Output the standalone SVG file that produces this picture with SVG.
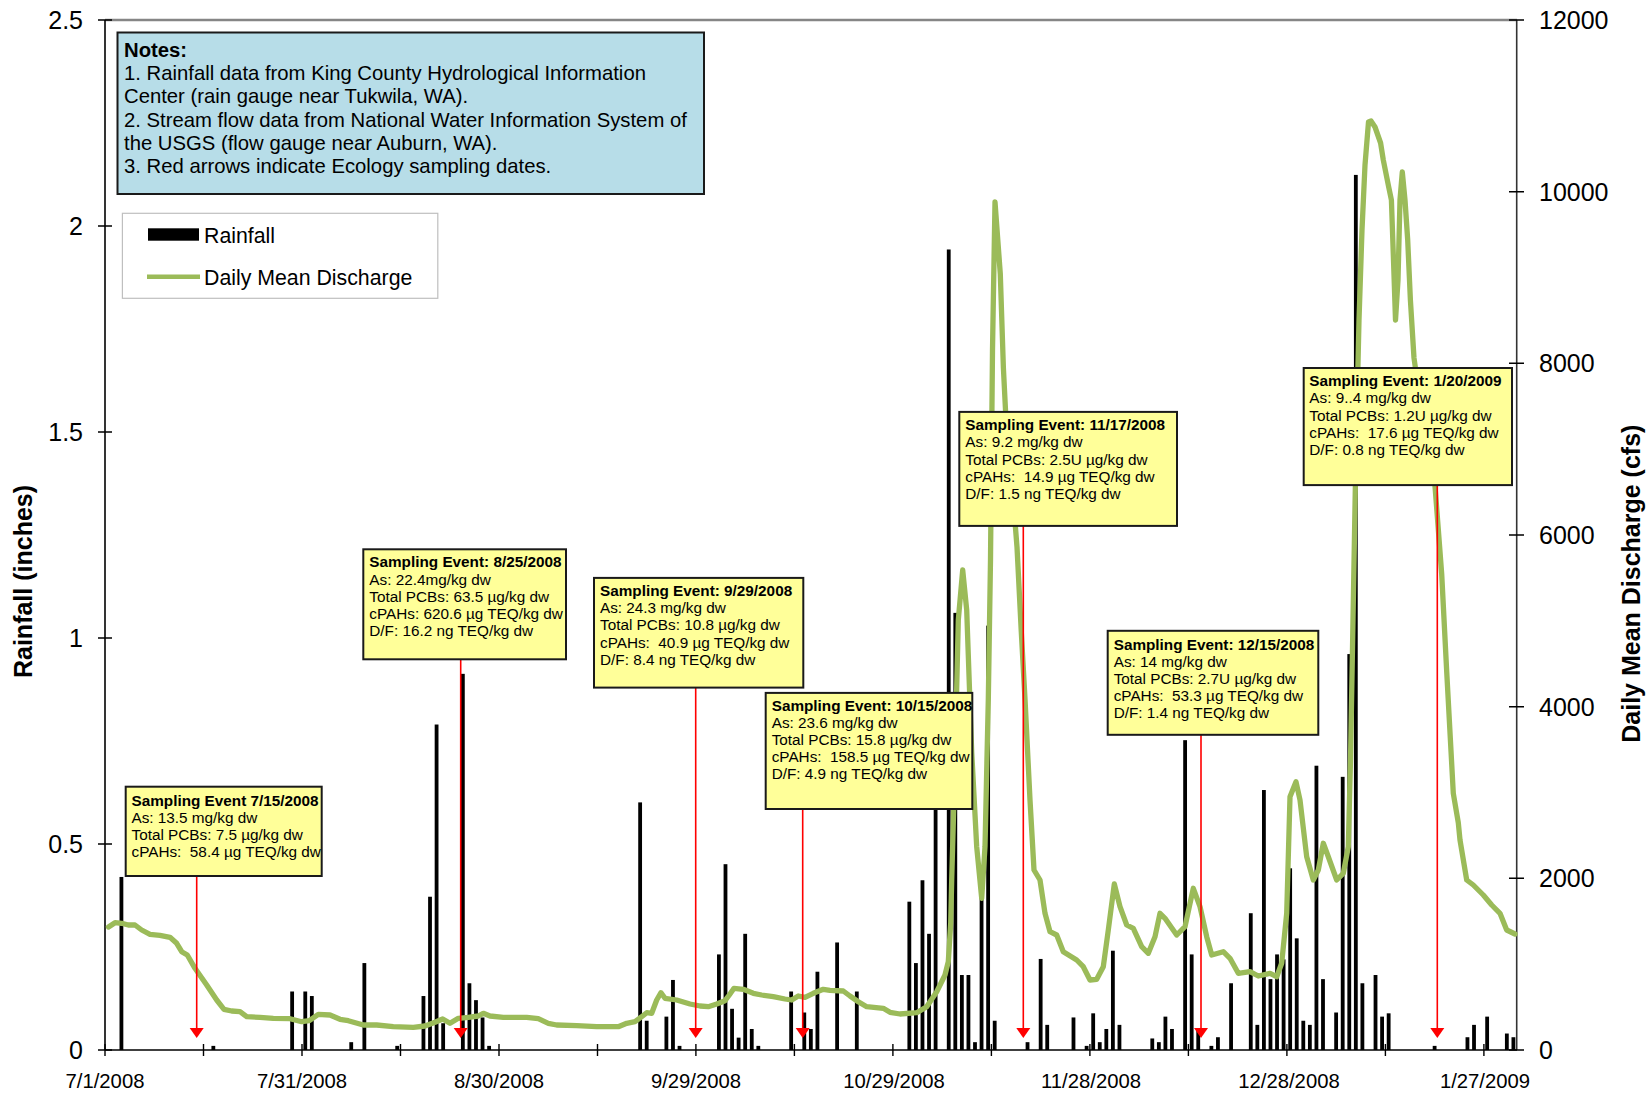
<svg xmlns="http://www.w3.org/2000/svg" width="1651" height="1095" viewBox="0 0 1651 1095">
<style>
text{font-family:"Liberation Sans",Arial,sans-serif;fill:#000}
.tick{font-size:25px}
.xl{font-size:20.3px;text-anchor:middle}
.ttl{font-size:25px;font-weight:bold;text-anchor:middle}
.box{fill:#FFFF99;stroke:#1a1a1a;stroke-width:2}
.bt{font-size:15.3px}
.bt text{white-space:pre}
.bt .h{font-weight:bold}
.arrow{stroke:#FF0000;stroke-width:1.6;fill:none}
.head{fill:#FF0000}
.notes text{font-size:20.3px}
.leg text{font-size:21.3px}
</style>
<rect width="1651" height="1095" fill="#ffffff"/>

<g id="axes">
<line x1="105" y1="20" x2="1517" y2="20" stroke="#868686" stroke-width="2.5"/>
<line x1="105" y1="20" x2="105" y2="1050" stroke="#000" stroke-width="1.6"/>
<line x1="1516.7" y1="20" x2="1516.7" y2="1050" stroke="#333" stroke-width="1.6"/>
<line x1="105" y1="1050" x2="1517" y2="1050" stroke="#000" stroke-width="1.6"/>
<path d="M98 20h14M98 226h14M98 432h14M98 638h14M98 844h14M98 1050h14M1509 20h15M1509 191.7h15M1509 363.3h15M1509 535h15M1509 706.7h15M1509 878.3h15M1509 1050h15" stroke="#000" stroke-width="1.4"/>
<path d="M105 1044v12M203.5 1044v12M302 1044v12M400.5 1044v12M499 1044v12M597.5 1044v12M695.9 1044v12M794.4 1044v12M892.9 1044v12M991.4 1044v12M1089.9 1044v12M1188.4 1044v12M1286.9 1044v12M1385.4 1044v12M1483.9 1044v12" stroke="#000" stroke-width="1.4"/>
<g class="tick" text-anchor="end">
<text x="83" y="29">2.5</text><text x="83" y="235">2</text><text x="83" y="441">1.5</text><text x="83" y="647">1</text><text x="83" y="853">0.5</text><text x="83" y="1059">0</text>
</g>
<g class="tick">
<text x="1539" y="29">12000</text><text x="1539" y="200.7">10000</text><text x="1539" y="372.3">8000</text><text x="1539" y="544">6000</text><text x="1539" y="715.7">4000</text><text x="1539" y="887.3">2000</text><text x="1539" y="1059">0</text>
</g>
<g class="xl">
<text x="105" y="1088">7/1/2008</text><text x="302" y="1088">7/31/2008</text><text x="499" y="1088">8/30/2008</text><text x="696" y="1088">9/29/2008</text><text x="894" y="1088">10/29/2008</text><text x="1091" y="1088">11/28/2008</text><text x="1289" y="1088">12/28/2008</text><text x="1485" y="1088">1/27/2009</text>
</g>
<text class="ttl" transform="translate(31.5,581.5) rotate(-90)">Rainfall (inches)</text>
<text class="ttl" transform="translate(1639.5,583.7) rotate(-90)">Daily Mean Discharge (cfs)</text>
</g>

<g id="rainfall-bars" fill="#000" transform="matrix(6.566 0 0 -412 106.38 1050)">
<rect x="2" y="0" width="0.58" height="0.42"/>
<rect x="16" y="0" width="0.58" height="0.01"/>
<rect x="28" y="0" width="0.58" height="0.142"/>
<rect x="30" y="0" width="0.58" height="0.142"/>
<rect x="31" y="0" width="0.58" height="0.131"/>
<rect x="37" y="0" width="0.58" height="0.019"/>
<rect x="39" y="0" width="0.58" height="0.211"/>
<rect x="44" y="0" width="0.58" height="0.01"/>
<rect x="48" y="0" width="0.58" height="0.131"/>
<rect x="49" y="0" width="0.58" height="0.372"/>
<rect x="50" y="0" width="0.58" height="0.79"/>
<rect x="51" y="0" width="0.58" height="0.065"/>
<rect x="54" y="0" width="0.58" height="0.913"/>
<rect x="55" y="0" width="0.58" height="0.162"/>
<rect x="56" y="0" width="0.58" height="0.121"/>
<rect x="57" y="0" width="0.58" height="0.079"/>
<rect x="58" y="0" width="0.58" height="0.01"/>
<rect x="81" y="0" width="0.58" height="0.601"/>
<rect x="82" y="0" width="0.58" height="0.071"/>
<rect x="85" y="0" width="0.58" height="0.081"/>
<rect x="86" y="0" width="0.58" height="0.17"/>
<rect x="87" y="0" width="0.58" height="0.01"/>
<rect x="93" y="0" width="0.58" height="0.232"/>
<rect x="94" y="0" width="0.58" height="0.451"/>
<rect x="95" y="0" width="0.58" height="0.1"/>
<rect x="96" y="0" width="0.58" height="0.03"/>
<rect x="97" y="0" width="0.58" height="0.282"/>
<rect x="98" y="0" width="0.58" height="0.051"/>
<rect x="99" y="0" width="0.58" height="0.01"/>
<rect x="104" y="0" width="0.58" height="0.142"/>
<rect x="106" y="0" width="0.58" height="0.091"/>
<rect x="107" y="0" width="0.58" height="0.051"/>
<rect x="108" y="0" width="0.58" height="0.19"/>
<rect x="111" y="0" width="0.58" height="0.261"/>
<rect x="114" y="0" width="0.58" height="0.142"/>
<rect x="122" y="0" width="0.58" height="0.36"/>
<rect x="123" y="0" width="0.58" height="0.211"/>
<rect x="124" y="0" width="0.58" height="0.412"/>
<rect x="125" y="0" width="0.58" height="0.282"/>
<rect x="126" y="0" width="0.58" height="0.66"/>
<rect x="128" y="0" width="0.58" height="1.943"/>
<rect x="129" y="0" width="0.58" height="1.061"/>
<rect x="130" y="0" width="0.58" height="0.182"/>
<rect x="131" y="0" width="0.58" height="0.182"/>
<rect x="132" y="0" width="0.58" height="0.019"/>
<rect x="133" y="0" width="0.58" height="0.37"/>
<rect x="134" y="0" width="0.58" height="1.03"/>
<rect x="135" y="0" width="0.58" height="0.071"/>
<rect x="140" y="0" width="0.58" height="0.019"/>
<rect x="142" y="0" width="0.58" height="0.221"/>
<rect x="143" y="0" width="0.58" height="0.061"/>
<rect x="147" y="0" width="0.58" height="0.079"/>
<rect x="149" y="0" width="0.58" height="0.01"/>
<rect x="150" y="0" width="0.58" height="0.089"/>
<rect x="151" y="0" width="0.58" height="0.019"/>
<rect x="152" y="0" width="0.58" height="0.051"/>
<rect x="153" y="0" width="0.58" height="0.241"/>
<rect x="154" y="0" width="0.58" height="0.061"/>
<rect x="159" y="0" width="0.58" height="0.028"/>
<rect x="160" y="0" width="0.58" height="0.019"/>
<rect x="161" y="0" width="0.58" height="0.081"/>
<rect x="162" y="0" width="0.58" height="0.051"/>
<rect x="164" y="0" width="0.58" height="0.752"/>
<rect x="165" y="0" width="0.58" height="0.232"/>
<rect x="166" y="0" width="0.58" height="0.051"/>
<rect x="168" y="0" width="0.58" height="0.01"/>
<rect x="169" y="0" width="0.58" height="0.031"/>
<rect x="171" y="0" width="0.58" height="0.162"/>
<rect x="174" y="0" width="0.58" height="0.332"/>
<rect x="175" y="0" width="0.58" height="0.061"/>
<rect x="176" y="0" width="0.58" height="0.631"/>
<rect x="177" y="0" width="0.58" height="0.172"/>
<rect x="178" y="0" width="0.58" height="0.232"/>
<rect x="179" y="0" width="0.58" height="0.22"/>
<rect x="180" y="0" width="0.58" height="0.441"/>
<rect x="181" y="0" width="0.58" height="0.271"/>
<rect x="182" y="0" width="0.58" height="0.071"/>
<rect x="183" y="0" width="0.58" height="0.061"/>
<rect x="184" y="0" width="0.58" height="0.69"/>
<rect x="185" y="0" width="0.58" height="0.172"/>
<rect x="187" y="0" width="0.58" height="0.091"/>
<rect x="188" y="0" width="0.58" height="0.663"/>
<rect x="189" y="0" width="0.58" height="0.961"/>
<rect x="190" y="0" width="0.58" height="2.124"/>
<rect x="191" y="0" width="0.58" height="0.162"/>
<rect x="193" y="0" width="0.58" height="0.182"/>
<rect x="194" y="0" width="0.58" height="0.081"/>
<rect x="195" y="0" width="0.58" height="0.089"/>
<rect x="202" y="0" width="0.58" height="0.01"/>
<rect x="207" y="0" width="0.58" height="0.031"/>
<rect x="208" y="0" width="0.58" height="0.061"/>
<rect x="210" y="0" width="0.58" height="0.081"/>
<rect x="213" y="0" width="0.58" height="0.04"/>
<rect x="214" y="0" width="0.58" height="0.031"/>
</g>

<g id="discharge-line">
<path fill="none" stroke="#9BBB59" stroke-width="5.3" stroke-linejoin="round" stroke-linecap="round" d="M108.5 927L115 922.7L121.7 923.3L128.3 925L135 925L141.7 930L150 934.3L160 935.3L170 937.3L176.7 943.3L181.7 951.7L187.3 955L195 968.3L206.7 985L216.7 1000L224 1009.3L231.7 1011L240 1011.7L246.7 1016.7L260 1017.3L273.3 1018.3L290 1018.7L301.7 1021.7L309.3 1020.7L318.3 1014.3L330 1015L340 1019.3L348.3 1020.7L363.3 1025L376.7 1025L393.3 1026.7L413.3 1027.3L425 1026L435 1022.3L442.7 1019L450 1023.3L458.3 1018.3L468.3 1017.3L478.3 1016L483.3 1013.3L490 1016L503.3 1017.3L526.7 1017.3L538.3 1018.7L548.3 1023.3L556.7 1025L576.7 1025.7L596.7 1026.7L618.3 1026.7L626.7 1023.3L635 1021.7L641.7 1016.7L646.7 1012.7L651.7 1013.3L656.7 1000L661 992.7L665 998.3L676.7 1000L690 1004L700 1006L708.3 1006.7L716.7 1004L725 1000.7L729.3 995L734 988.3L743.3 989.3L753.3 993.3L761.7 995L773.3 996.7L785 999L791.7 1000L798.3 996L805 997.3L813.3 993.3L823.3 989.3L830 990.3L843.3 991L850 996L858.3 1001.7L866.7 1006.7L883.3 1008.3L890 1012.3L900 1014L916.7 1012.7L926.7 1006.7L936.7 991.7L945 975L948.3 961.7L950.7 923L951.7 880L953.3 823L955 760L958.3 620L962.7 570L966.7 610L971.7 752L976.7 846.7L981.7 898.3L985 846.7L988.3 700L990.5 560L992.5 350L995 202L1000.3 274L1003.4 368L1007.6 452L1012.9 495L1017 547L1021.3 632L1025 699L1030 800L1034 870L1040 880L1045 913.3L1050 931.7L1056.7 935L1063.3 951.7L1076.7 960L1083.3 966.7L1090 980L1096.7 979.3L1103.3 966.7L1108.3 930L1114.3 884L1120 906.7L1126.7 925L1133.3 928.3L1141.7 946.7L1148.3 953.3L1155 936.7L1160 913.3L1165 918.3L1176.7 935L1185 926.7L1193.3 888.3L1200 906.7L1206.7 936.7L1211.7 955L1223.3 951.7L1230 958.3L1238.3 973.3L1250 971.7L1258.3 976L1270 973.3L1276.7 976.7L1281.7 963.3L1286.7 913.3L1290 796.7L1296 781.7L1300 800L1306.7 856.7L1313.3 880L1318.3 870L1323.3 843.3L1328.3 856.7L1336.7 880L1343.3 873.3L1348.3 846.7L1350.5 760L1353 620L1356 450L1359 320L1362 230L1365 165L1368.5 122L1371 121L1375 127L1380.6 143L1383.3 160L1388.7 187L1391.4 200L1393.5 260L1395.5 320L1398 280L1400 200L1402.3 172L1405 200L1407.7 240L1410.4 300L1414 358L1420 400L1430 460L1435 486L1441.7 574L1446.7 671.5L1453.3 793.4L1458.3 822.7L1460 840L1466.7 880L1473.3 885L1483.3 895L1491.7 905L1500 913.3L1506.7 930L1515 934"/>
</g>

<g id="connectors">
<path class="arrow" d="M196.7 876V1029M460.7 659.3V1029M695.7 687.6V1029M802.7 809V1029M1023.3 525.9V1029M1201 734.8V1029M1437.3 485.1V1029"/>
<polygon class="head" points="189.7,1028 203.7,1028 196.7,1038"/>
<polygon class="head" points="453.7,1028 467.7,1028 460.7,1038"/>
<polygon class="head" points="688.7,1028 702.7,1028 695.7,1038"/>
<polygon class="head" points="795.7,1028 809.7,1028 802.7,1038"/>
<polygon class="head" points="1016.3,1028 1030.3,1028 1023.3,1038"/>
<polygon class="head" points="1194,1028 1208,1028 1201,1038"/>
<polygon class="head" points="1430.3,1028 1444.3,1028 1437.3,1038"/>
</g>

<g id="event-0715" class="bt">
<rect class="box" x="125.7" y="786.7" width="196" height="89.3"/>
<text class="h" x="131.5" y="806">Sampling Event 7/15/2008</text>
<text x="131.5" y="822.9">As: 13.5 mg/kg dw</text>
<text x="131.5" y="839.8">Total PCBs: 7.5 µg/kg dw</text>
<text x="131.5" y="856.7">cPAHs:  58.4 µg TEQ/kg dw</text>
</g>

<g id="event-0825" class="bt">
<rect class="box" x="363.3" y="549.3" width="202.7" height="110"/>
<text class="h" x="369.3" y="567.3">Sampling Event: 8/25/2008</text>
<text x="369.3" y="584.5">As: 22.4mg/kg dw</text>
<text x="369.3" y="601.7">Total PCBs: 63.5 µg/kg dw</text>
<text x="369.3" y="618.9">cPAHs: 620.6 µg TEQ/kg dw</text>
<text x="369.3" y="636.1">D/F: 16.2 ng TEQ/kg dw</text>
</g>

<g id="event-0929" class="bt">
<rect class="box" x="594" y="577.9" width="209.3" height="109.7"/>
<text class="h" x="600" y="595.9">Sampling Event: 9/29/2008</text>
<text x="600" y="613.1">As: 24.3 mg/kg dw</text>
<text x="600" y="630.3">Total PCBs: 10.8 µg/kg dw</text>
<text x="600" y="647.5">cPAHs:  40.9 µg TEQ/kg dw</text>
<text x="600" y="664.7">D/F: 8.4 ng TEQ/kg dw</text>
</g>

<g id="event-1015" class="bt">
<rect class="box" x="765.7" y="692.9" width="206.6" height="116.1"/>
<text class="h" x="771.7" y="710.6">Sampling Event: 10/15/2008</text>
<text x="771.7" y="727.8">As: 23.6 mg/kg dw</text>
<text x="771.7" y="745">Total PCBs: 15.8 µg/kg dw</text>
<text x="771.7" y="762.2">cPAHs:  158.5 µg TEQ/kg dw</text>
<text x="771.7" y="779.4">D/F: 4.9 ng TEQ/kg dw</text>
</g>

<g id="event-1117" class="bt">
<rect class="box" x="959.3" y="411.9" width="217.7" height="114"/>
<text class="h" x="965.3" y="430.2">Sampling Event: 11/17/2008</text>
<text x="965.3" y="447.4">As: 9.2 mg/kg dw</text>
<text x="965.3" y="464.6">Total PCBs: 2.5U µg/kg dw</text>
<text x="965.3" y="481.8">cPAHs:  14.9 µg TEQ/kg dw</text>
<text x="965.3" y="499">D/F: 1.5 ng TEQ/kg dw</text>
</g>

<g id="event-1215" class="bt">
<rect class="box" x="1107.7" y="630.8" width="210.6" height="104"/>
<text class="h" x="1113.7" y="649.5">Sampling Event: 12/15/2008</text>
<text x="1113.7" y="666.7">As: 14 mg/kg dw</text>
<text x="1113.7" y="683.9">Total PCBs: 2.7U µg/kg dw</text>
<text x="1113.7" y="701.1">cPAHs:  53.3 µg TEQ/kg dw</text>
<text x="1113.7" y="718.3">D/F: 1.4 ng TEQ/kg dw</text>
</g>

<g id="event-0120" class="bt">
<rect class="box" x="1303.7" y="368" width="208.3" height="117.1"/>
<text class="h" x="1309.3" y="386.1">Sampling Event: 1/20/2009</text>
<text x="1309.3" y="403.3">As: 9..4 mg/kg dw</text>
<text x="1309.3" y="420.5">Total PCBs: 1.2U µg/kg dw</text>
<text x="1309.3" y="437.7">cPAHs:  17.6 µg TEQ/kg dw</text>
<text x="1309.3" y="454.9">D/F: 0.8 ng TEQ/kg dw</text>
</g>

<g id="notes" class="notes">
<rect x="117.5" y="32.5" width="586.5" height="161.5" fill="#B7DDE8" stroke="#1a1a1a" stroke-width="2"/>
<text x="124" y="56.7" font-weight="bold">Notes:</text>
<text x="124" y="80">1. Rainfall data from King County Hydrological Information</text>
<text x="124" y="103.3">Center (rain gauge near Tukwila, WA).</text>
<text x="124" y="126.6">2. Stream flow data from National Water Information System of</text>
<text x="124" y="149.9">the USGS (flow gauge near Auburn, WA).</text>
<text x="124" y="173.2">3. Red arrows indicate Ecology sampling dates.</text>
</g>

<g id="legend" class="leg">
<rect x="122.4" y="213.3" width="315.4" height="85" fill="#fff" stroke="#BFBFBF" stroke-width="1.2"/>
<rect x="148" y="228.3" width="51" height="12.4" fill="#000"/>
<text x="204" y="242.7">Rainfall</text>
<line x1="147" y1="276.7" x2="200" y2="276.7" stroke="#9BBB59" stroke-width="4.5"/>
<text x="204" y="285">Daily Mean Discharge</text>
</g>
</svg>
